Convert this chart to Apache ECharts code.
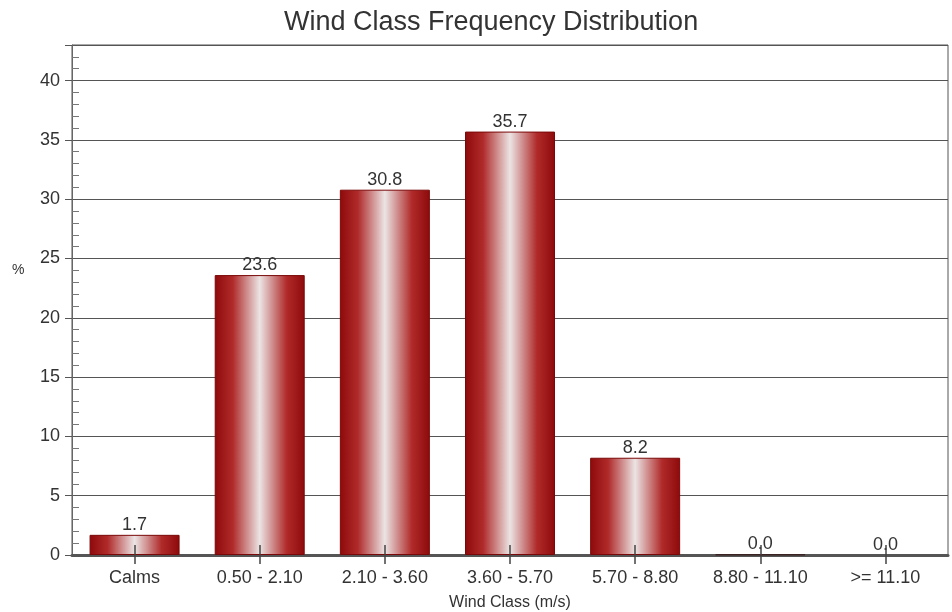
<!DOCTYPE html>
<html>
<head>
<meta charset="utf-8">
<script src="https://cdn.jsdelivr.net/npm/echarts@6/dist/echarts.min.js"></script>
<style>html,body{margin:0;padding:0;background:#fff;}#c{width:952px;height:612px;}</style>
</head>
<body>
<div id="c"></div>
<script>
var categories = ['Calms', '0.50 - 2.10', '2.10 - 3.60', '3.60 - 5.70', '5.70 - 8.80', '8.80 - 11.10', '>= 11.10'];
var values = [1.7, 23.6, 30.8, 35.7, 8.2, 0.04, 0.0];
var titleText = 'Wind Class Frequency Distribution';
var xName = 'Wind Class (m/s)';
var yName = '%';

var FONT = 'Liberation Sans, Arial, sans-serif';
var chart = echarts.init(document.getElementById('c'), null, {renderer: 'canvas'});
var barGrad = new echarts.graphic.LinearGradient(0, 0, 1, 0, [
  {offset: 0, color: '#8e0a0a'},
  {offset: 0.2, color: '#b02a2a'},
  {offset: 0.5, color: '#ece4e4'},
  {offset: 0.8, color: '#b02a2a'},
  {offset: 1, color: '#8e0a0a'}
]);
var seriesData = values.map(function (v) {
  if (v === 0) {
    return {value: v, itemStyle: {borderWidth: 0}};
  }
  if (v < 0.05) {
    return {value: v, itemStyle: {color: '#3a2222', borderColor: '#3a2222', borderWidth: 1.5}};
  }
  return v;
});
chart.setOption({
  animation: false,
  backgroundColor: '#ffffff',
  title: {
    text: titleText,
    left: 279, top: 4,
    textStyle: {fontFamily: FONT, fontSize: 27, fontWeight: 'normal', color: '#333'}
  },
  graphic: [{
    type: 'text', left: 12, top: 263,
    style: {text: yName, font: '14px ' + FONT, fill: '#333'}
  }],
  grid: {left: 72, right: 4, top: 45, bottom: 57, outerBoundsMode: 'none', containLabel: false,
    show: true, borderColor: '#555', borderWidth: 1, backgroundColor: 'transparent'},
  xAxis: [{
    type: 'category', data: categories,
    name: xName, nameLocation: 'middle', nameGap: 40,
    nameTextStyle: {fontFamily: FONT, fontSize: 16, color: '#333'},
    axisLine: {lineStyle: {color: '#555', width: 3}},
    axisTick: {show: true, alignWithLabel: true, length: 9, lineStyle: {color: '#444', width: 1.5}},
    axisLabel: {fontFamily: FONT, fontSize: 18, color: '#333', margin: 14},
    splitLine: {show: false}
  }, {
    type: 'category', data: categories, position: 'bottom', z: 10,
    axisLine: {show: false},
    axisTick: {show: true, inside: true, alignWithLabel: true, length: 10, lineStyle: {color: '#444', width: 1.5}},
    axisLabel: {show: false},
    splitLine: {show: false}
  }],
  yAxis: {
    type: 'value', min: 0, max: 43, interval: 5,
    axisLine: {show: true, lineStyle: {color: '#666', width: 1}},
    axisTick: {show: true, length: 7, lineStyle: {color: '#555'}},
    minorTick: {show: true, splitNumber: 5, length: -7, lineStyle: {color: '#777'}},
    axisLabel: {fontFamily: FONT, fontSize: 18, color: '#333', margin: 12, showMaxLabel: false,
      formatter: function (v) { return v % 5 === 0 ? String(v) : ''; }},
    splitLine: {show: true, lineStyle: {color: '#555', width: 1}}
  },
  series: [{
    type: 'bar', data: seriesData, barWidth: 90, xAxisIndex: 0,
    itemStyle: {color: barGrad, borderColor: '#7a0808', borderWidth: 1},
    label: {show: true, position: 'top', distance: 1, fontFamily: FONT, fontSize: 18, color: '#333',
      formatter: function (p) { return p.value.toFixed(1); }}
  }]
});
</script>
</body>
</html>
